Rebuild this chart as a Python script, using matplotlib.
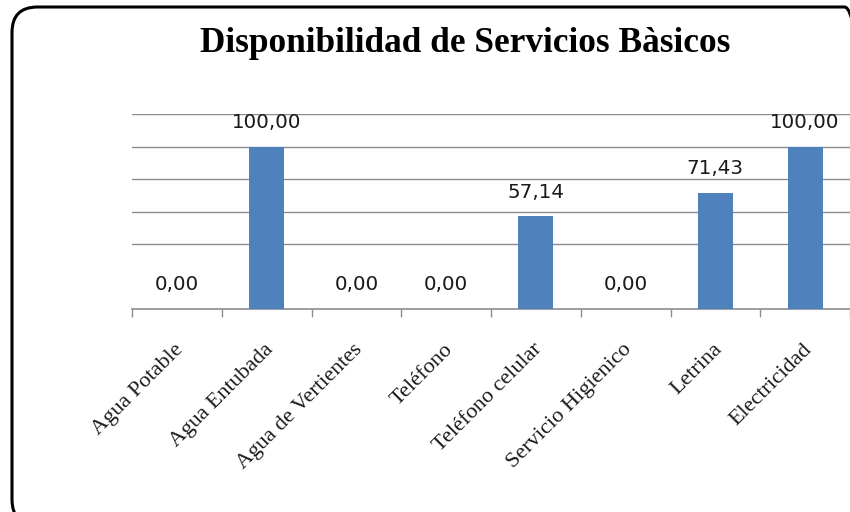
import matplotlib
matplotlib.use("Agg")
import matplotlib.pyplot as plt
from matplotlib.patches import FancyBboxPatch

categories = ["Agua Potable", "Agua Entubada", "Agua de Vertientes", "Teléfono",
              "Teléfono celular", "Servicio Higienico", "Letrina", "Electricidad"]
values = [0.00, 100.00, 0.00, 0.00, 57.14, 0.00, 71.43, 100.00]
title = "Disponibilidad de Servicios Bàsicos"
gridlines = [40, 60, 80, 100, 120]

W, H = 850, 512
fig = plt.figure(figsize=(W / 100, H / 100), dpi=100)
ax = fig.add_axes([132 / W, 1 - 309 / H, (850 - 132) / W, (309 - 114) / H])

x = list(range(len(categories)))
ax.bar(x, values, width=0.39, color="#4f81bd", zorder=3)
ax.set_xlim(-0.5, len(categories) - 0.5)
ax.set_ylim(0, 120)

for g in gridlines:
    ax.axhline(g, color="#8c8c8c", lw=1.0, zorder=1)

for xi, v in zip(x, values):
    ax.annotate(f"{v:.2f}".replace(".", ","), (xi, v), xytext=(0, 24),
                textcoords="offset pixels", ha="center", va="center",
                fontsize=14.3, family="DejaVu Sans", color="#1a1a1a")

for s in ["top", "right", "left"]:
    ax.spines[s].set_visible(False)
ax.spines["bottom"].set_color("#8c8c8c")
ax.spines["bottom"].set_linewidth(1.2)
ax.set_yticks([])
ax.set_xticks([i - 0.5 for i in range(len(categories) + 1)])
ax.set_xticklabels([])
ax.tick_params(axis="x", length=6, color="#8c8c8c", width=1)

for xi, c in zip(x, categories):
    ax.annotate(c, (xi, 0), xytext=(-3, -31),
                textcoords="offset pixels", ha="right", va="top",
                rotation=45, rotation_mode="anchor",
                fontsize=16, family="Liberation Serif", color="#1a1a1a")

fig.text(465 / W, 1 - 43 / H, title, ha="center", va="center",
         fontsize=25.4, fontweight="bold", family="Liberation Serif", color="black")

box = FancyBboxPatch((12 / W, 1 - 525 / H), (870 - 12) / W, (525 - 7) / H,
                     boxstyle="round,pad=0,rounding_size=0.03",
                     transform=fig.transFigure, fill=False, ec="black", lw=2.2,
                     mutation_aspect=W / H)
fig.patches.append(box)

fig.savefig("out.png", dpi=100)
